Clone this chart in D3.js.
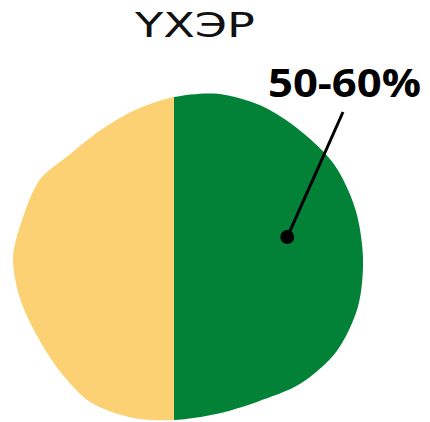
<!DOCTYPE html>
<html>
<head>
<meta charset="utf-8">
<script src="https://cdn.jsdelivr.net/npm/d3@7"></script>
<style>
  html, body { margin: 0; padding: 0; background: #fff; }
  #chart { width: 430px; height: 422px; }
</style>
</head>
<body>
<div id="chart"></div>
<script>
// Chart data
const title = 'ҮХЭР';
const categories = ['Бусад', 'Ногоон'];
const shares = [50, 50];          // yellow part, green part
const shareColors = ['#fcd174', '#028237'];
const labelText = '50-60%';

// blob outline, relative radius every 15 degrees clockwise from the top
const outlineRadius = [1.000, 1.056, 1.091, 1.116, 1.156, 1.172, 1.181, 1.191,
  1.175, 1.119, 1.044, 1.016, 1.019, 1.038, 1.047, 1.009,
  0.988, 0.997, 1.006, 0.975, 0.968, 0.913, 0.916, 0.950];

const width = 430;
const height = 422;
const cx = 174, cy = 257;

const svg = d3.select('#chart')
  .append('svg')
  .attr('width', width)
  .attr('height', height);

const r = d3.scaleLinear().domain([0, 1]).range([0, 160]);
const angle = d3.scaleLinear().domain([0, outlineRadius.length]).range([0, 2 * Math.PI]);

const blob = d3.lineRadial()
  .angle((d, i) => angle(i))
  .radius((d) => r(d))
  .curve(d3.curveCardinalClosed.tension(0.1));

svg.append('defs')
  .append('clipPath')
  .attr('id', 'blob-clip')
  .append('path')
  .attr('transform', `translate(${cx},${cy})`)
  .attr('d', blob(outlineRadius));

// pie: green from the top clockwise, yellow the rest
const pie = d3.pie().sort(null).startAngle(Math.PI).endAngle(3 * Math.PI);
const arc = d3.arc().innerRadius(0).outerRadius(260);

const g = svg.append('g')
  .attr('clip-path', 'url(#blob-clip)')
  .append('g')
  .attr('transform', `translate(${cx},${cy})`);

g.selectAll('path')
  .data(pie(shares))
  .enter()
  .append('path')
  .attr('d', arc)
  .attr('fill', (d, i) => shareColors[i]);

// Title
svg.append('text')
  .attr('x', 135)
  .attr('y', 37)
  .attr('font-family', "'DejaVu Sans', sans-serif")
  .attr('font-size', '33px')
  .attr('fill', '#111')
  .attr('textLength', 120)
  .attr('lengthAdjust', 'spacingAndGlyphs')
  .text(title);

// Leader line and dot for the green share
const dotAngle = 80 * Math.PI / 180;
const dotR = 115;
const dotX = cx + dotR * Math.sin(dotAngle);
const dotY = cy - dotR * Math.cos(dotAngle);

svg.append('line')
  .attr('x1', 343)
  .attr('y1', 112)
  .attr('x2', dotX)
  .attr('y2', dotY)
  .attr('stroke', '#000')
  .attr('stroke-width', 3);

svg.append('circle')
  .attr('cx', dotX)
  .attr('cy', dotY)
  .attr('r', 7)
  .attr('fill', '#000');

svg.append('text')
  .attr('x', 268)
  .attr('y', 97)
  .attr('font-family', "'Open Sans', sans-serif")
  .attr('font-weight', 700)
  .attr('font-size', '39px')
  .attr('fill', '#000')
  .attr('textLength', 153)
  .attr('lengthAdjust', 'spacingAndGlyphs')
  .text(labelText);
</script>
</body>
</html>
